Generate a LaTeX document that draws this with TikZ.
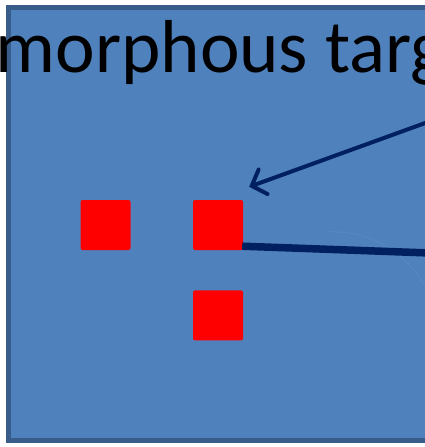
\documentclass[tikz,border=0pt]{standalone}
\usepackage{fontspec}
\setmainfont{Carlito}
\usepackage{xcolor}
\usepackage{tikz}
\usetikzlibrary{arrows.meta, positioning, calc}
\definecolor{panelblue}{RGB}{79,129,189}
\definecolor{paneledge}{RGB}{56,93,138}
\definecolor{navy}{RGB}{0,32,96}
\definecolor{faintarc}{RGB}{88,136,194}
\tikzstyle{site} = [rectangle, fill=red, draw=none, rounded corners=2pt, minimum size=50pt, inner sep=0pt]
\tikzstyle{pointer} = [navy, line width=4pt, line cap=round, -{Straight Barb[length=12pt, width=26pt, line cap=round]}]
\tikzstyle{bond} = [navy, line width=7.5pt]

\begin{document}
\begin{tikzpicture}[x=1pt, y=-1pt]
        \useasboundingbox (0,0) rectangle (425,447);
        \clip (0,0) rectangle (425,447);
        \fill[white] (0,0) rectangle (425,447);
        % panel
        \draw[fill=panelblue, draw=paneledge, line width=5pt] (8,7.5) rectangle (440,440.5);
        \node[anchor=base west, inner sep=0pt, font=\fontsize{75}{80}\selectfont] (title) at (-4.5,72) {morphous targ};
        % faint arc
        \draw[faintarc, line width=1pt] (328,232) arc[start angle=-93, end angle=0, radius=104];
        % sites
        \node[site] (sqleft) at (105.5,225) {};
        \node[site] (sqmid) at (218,225) {};
        \node[site, below=40pt of sqmid] (sqlow) {};
        \coordinate (srcA) at (428,122);
        \coordinate (srcB) at (430,253);
        \draw[pointer] (srcA) -- ([shift={(6,-13)}]sqmid.north east);
        \draw[bond] ([shift={(-1,-4)}]sqmid.south east) -- (srcB);
\end{tikzpicture}
\end{document}
